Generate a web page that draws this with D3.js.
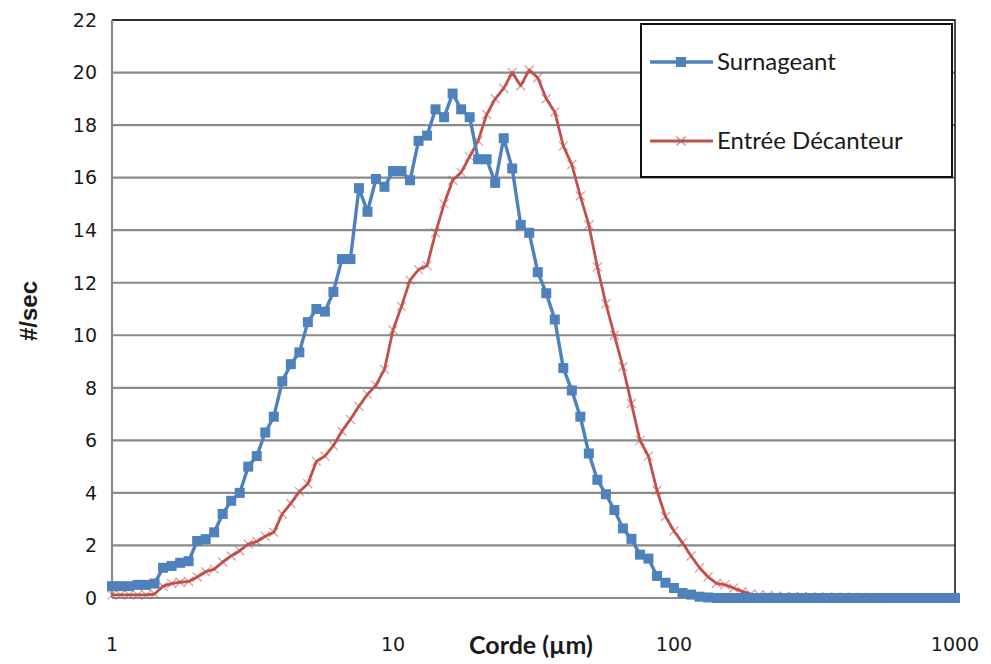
<!DOCTYPE html>
<html>
<head>
<meta charset="utf-8">
<script src="https://cdn.jsdelivr.net/npm/d3@7"></script>
<style>
  body { margin: 0; background: #fff; }
  #chart { width: 991px; height: 664px; }
</style>
</head>
<body>
<div id="chart"></div>
<script>
// chord length bins (µm), log spaced
var corde = [
  1.000, 1.072, 1.150, 1.233, 1.322, 1.417, 1.520, 1.630, 1.748, 1.874,
  2.009, 2.154, 2.310, 2.477, 2.656, 2.848, 3.054, 3.275, 3.511, 3.765,
  4.037, 4.329, 4.642, 4.977, 5.337, 5.722, 6.136, 6.579, 7.055, 7.565,
  8.111, 8.697, 9.326, 10.00, 10.72, 11.50, 12.33, 13.22, 14.17, 15.20,
  16.30, 17.48, 18.74, 20.09, 21.54, 23.10, 24.77, 26.56, 28.48, 30.54,
  32.75, 35.11, 37.65, 40.37, 43.29, 46.42, 49.77, 53.37, 57.22, 61.36,
  65.79, 70.55, 75.65, 81.11, 86.97, 93.26, 100.0, 107.2, 115.0, 123.3,
  132.2, 141.7, 152.0, 163.0, 174.8, 187.4, 200.9, 215.4, 231.0, 247.7,
  265.6, 284.8, 305.4, 327.5, 351.1, 376.5, 403.7, 432.9, 464.2, 497.7,
  533.7, 572.2, 613.6, 657.9, 705.5, 756.5, 811.1, 869.7, 932.6, 1000
];

var surnageant = [
  0.45, 0.45, 0.45, 0.5, 0.5, 0.55, 1.15, 1.22, 1.34, 1.4,
  2.17, 2.24, 2.5, 3.2, 3.7, 4.0, 5.0, 5.4, 6.3, 6.9,
  8.25, 8.9, 9.35, 10.5, 11.0, 10.9, 11.65, 12.9, 12.9, 15.6,
  14.7, 15.95, 15.65, 16.25, 16.25, 15.9, 17.4, 17.6, 18.6, 18.3,
  19.2, 18.6, 18.3, 16.7, 16.7, 15.8, 17.5, 16.35, 14.2, 13.9,
  12.4, 11.6, 10.6, 8.75, 7.9, 6.9, 5.5, 4.5, 3.95, 3.35,
  2.65, 2.25, 1.65, 1.5, 0.84, 0.58, 0.38, 0.19, 0.13, 0.05,
  0.02, 0, 0, 0, 0, 0, 0, 0, 0, 0,
  0, 0, 0, 0, 0, 0, 0, 0, 0, 0,
  0, 0, 0, 0, 0, 0, 0, 0, 0, 0
];

var entree = [
  0.12, 0.12, 0.12, 0.12, 0.12, 0.15, 0.45, 0.55, 0.6, 0.63,
  0.8, 1.0, 1.1, 1.37, 1.6, 1.8, 2.05, 2.15, 2.35, 2.5,
  3.2, 3.6, 4.05, 4.35, 5.2, 5.4, 5.8, 6.35, 6.8, 7.3,
  7.75, 8.1, 8.7, 10.2, 11.1, 12.1, 12.5, 12.65, 13.9, 15.0,
  15.9, 16.2, 16.8, 17.4, 18.4, 19.0, 19.4, 20.0, 19.5, 20.1,
  19.8, 19.0, 18.5, 17.2, 16.5, 15.3, 14.2, 12.6, 11.2, 10.0,
  8.8, 7.4, 6.0, 5.4, 4.1, 3.1, 2.55, 2.1, 1.6, 1.15,
  0.8, 0.56, 0.5, 0.38, 0.25, 0.15, 0.12, 0.1, 0.07, 0.06,
  0.05, 0.05, 0.04, 0.04, 0.03, 0.03, 0.03, 0.02, 0.02, 0.02,
  0.02, 0.02, 0.02, 0.01, 0.01, 0.01, 0.01, 0.01, 0.01, 0.01
];

var xTicks = [1, 10, 100, 1000];
var yTicks = [0, 2, 4, 6, 8, 10, 12, 14, 16, 18, 20, 22];
var seriesNames = ["Surnageant", "Entrée Décanteur"];

var width = 991, height = 664;
var mLeft = 112, mRight = 955, mTop = 20, mBottom = 598;
var blue = "#4f81bd", red = "#c0504d";

var svg = d3.select("#chart")
  .append("svg")
    .attr("width", width)
    .attr("height", height);

var x = d3.scaleLog()
    .domain([1, 1000])
    .range([mLeft, mRight]);

var y = d3.scaleLinear()
    .domain([0, 22])
    .range([mBottom, mTop]);

// horizontal gridlines
svg.append("g")
  .selectAll("line")
    .data(yTicks)
  .enter().append("line")
    .attr("x1", mLeft)
    .attr("x2", mRight)
    .attr("y1", function(d) { return y(d); })
    .attr("y2", function(d) { return y(d); })
    .attr("stroke", "#8a8a8a")
    .attr("stroke-width", 2.2);

// plot border (top, right)
svg.append("path")
    .attr("d", "M" + mLeft + "," + mTop + "H" + mRight + "V" + mBottom)
    .attr("fill", "none")
    .attr("stroke", "#111")
    .attr("stroke-width", 1.5);

// left axis line
svg.append("line")
    .attr("x1", mLeft).attr("x2", mLeft)
    .attr("y1", mTop).attr("y2", mBottom)
    .attr("stroke", "#8a8a8a")
    .attr("stroke-width", 2.2);

// y tick labels
svg.append("g")
  .selectAll("text")
    .data(yTicks)
  .enter().append("text")
    .attr("x", 97)
    .attr("y", function(d) { return y(d); })
    .attr("dy", "0.36em")
    .attr("text-anchor", "end")
    .attr("font-family", "DejaVu Sans, Verdana, sans-serif")
    .attr("font-size", 19)
    .attr("fill", "#1a1a1a")
    .text(function(d) { return d; });

// x tick labels
svg.append("g")
  .selectAll("text")
    .data(xTicks)
  .enter().append("text")
    .attr("x", function(d) { return x(d); })
    .attr("y", 651)
    .attr("text-anchor", "middle")
    .attr("font-family", "DejaVu Sans, Verdana, sans-serif")
    .attr("font-size", 19)
    .attr("fill", "#1a1a1a")
    .text(function(d) { return d; });

// axis titles
svg.append("text")
    .attr("x", 531)
    .attr("y", 654)
    .attr("text-anchor", "middle")
    .attr("font-family", "Lato, 'Open Sans', sans-serif")
    .attr("font-weight", "bold")
    .attr("font-size", 25)
    .attr("fill", "#1a1a1a")
    .text("Corde (µm)");

svg.append("text")
    .attr("transform", "translate(37,311) rotate(-90)")
    .attr("text-anchor", "middle")
    .attr("font-family", "Liberation Sans, Arial, sans-serif")
    .attr("font-weight", "bold")
    .attr("font-size", 24)
    .attr("fill", "#1a1a1a")
    .text("#/sec");

var line = d3.line()
    .x(function(d) { return x(d[0]); })
    .y(function(d) { return y(d[1]); });

var blueData = corde.map(function(c, i) { return [c, surnageant[i]]; });
var redData = corde.map(function(c, i) { return [c, entree[i]]; });

function crossPath(s) {
  return "M" + (-s) + "," + (-s) + "L" + s + "," + s + "M" + (-s) + "," + s + "L" + s + "," + (-s);
}

// red series (drawn first, blue on top)
svg.append("path")
    .datum(redData)
    .attr("d", line)
    .attr("fill", "none")
    .attr("stroke", red)
    .attr("stroke-width", 2.8)
    .attr("stroke-linejoin", "round");

svg.append("g")
  .selectAll("path")
    .data(redData)
  .enter().append("path")
    .attr("transform", function(d) { return "translate(" + x(d[0]) + "," + y(d[1]) + ")"; })
    .attr("d", crossPath(4.5))
    .attr("stroke", red)
    .attr("stroke-opacity", 0.55)
    .attr("stroke-width", 1.3);

svg.append("path")
    .datum(blueData)
    .attr("d", line)
    .attr("fill", "none")
    .attr("stroke", blue)
    .attr("stroke-width", 3.4)
    .attr("stroke-linejoin", "round");

svg.append("g")
  .selectAll("rect")
    .data(blueData)
  .enter().append("rect")
    .attr("x", function(d) { return x(d[0]) - 5; })
    .attr("y", function(d) { return y(d[1]) - 5; })
    .attr("width", 10)
    .attr("height", 10)
    .attr("fill", blue);

// legend
var legend = svg.append("g");
legend.append("rect")
    .attr("x", 641).attr("y", 24)
    .attr("width", 311).attr("height", 153)
    .attr("fill", "#fff")
    .attr("stroke", "#111")
    .attr("stroke-width", 2);

var legY = [62, 141];
var legColors = [blue, red];
seriesNames.forEach(function(name, i) {
  legend.append("line")
      .attr("x1", 650).attr("x2", 713)
      .attr("y1", legY[i]).attr("y2", legY[i])
      .attr("stroke", legColors[i])
      .attr("stroke-width", i === 0 ? 3.4 : 2.8);
  if (i === 0) {
    legend.append("rect")
        .attr("x", 676).attr("y", legY[i] - 5)
        .attr("width", 10).attr("height", 10)
        .attr("fill", blue);
  } else {
    legend.append("path")
        .attr("transform", "translate(681," + legY[i] + ")")
        .attr("d", crossPath(4.5))
        .attr("stroke", red)
        .attr("stroke-opacity", 0.7)
        .attr("stroke-width", 1.3);
  }
  legend.append("text")
      .attr("x", 717)
      .attr("y", legY[i])
      .attr("dy", "0.35em")
      .attr("font-family", "Lato, 'Open Sans', sans-serif")
      .attr("font-size", 24)
      .attr("fill", "#1a1a1a")
      .text(name);
});
</script>
</body>
</html>
